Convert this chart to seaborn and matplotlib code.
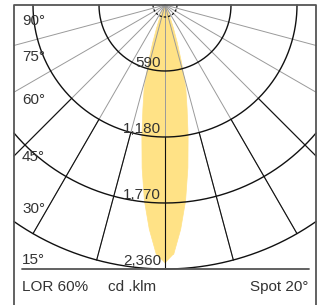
## Diagrama polar de distribuição luminosa (Spot 20°)
import numpy as np
import pandas as pd
import matplotlib
matplotlib.use('Agg')
import matplotlib.pyplot as plt
import seaborn as sns

## Dados
angulos = [0, 2, 4, 6, 8, 10, 12, 14, 16, 18, 20, 22, 24, 26, 28]
intensidade = [2310, 2230, 2010, 1760, 1470, 1190, 950, 770, 540, 360, 220, 130, 70, 30, 0]
aneis = [590, 1180, 1770, 2360]
rotulos_aneis = ['590', '1,180', '1,770', '2,360']
angulos_grade = [0, 15, 30, 45, 60, 75]
rotulos_angulo = ['90°', '75°', '60°', '45°', '30°', '15°']
texto_lor = 'LOR 60%'
texto_unid = 'cd .klm'
texto_feixe = 'Spot 20°'

## Escala: pixels -> cd/klm (centro do diagrama em x=165px, y=5px)
k = 2360 / 264.0
def px(x, y):
    return (x - 165) * k, -(y - 5) * k

sns.set_theme(style='white')
plt.rcParams['font.family'] = ['Liberation Sans', 'DejaVu Sans']

fig = plt.figure(figsize=(3.19, 3.05), dpi=100)
ax = fig.add_axes([0, 0, 1, 1])
x0, y0 = px(0, 0)
x1, y1 = px(319, 305)
ax.set_xlim(x0, x1)
ax.set_ylim(y1, y0)
ax.set_axis_off()

borda = 1350

## Curva de intensidade (espelhada)
df = pd.DataFrame({'ang': angulos, 'I': intensidade})
t = np.radians(df['ang'].values)
xs = np.concatenate([-(df['I'].values * np.sin(t))[::-1], df['I'].values * np.sin(t)])
ys = np.concatenate([-(df['I'].values * np.cos(t))[::-1], -df['I'].values * np.cos(t)])
ax.fill(xs, ys, color='#ffe286', lw=0, zorder=1)
sns.lineplot(x=xs, y=ys, sort=False, color='#ffe286', lw=0.5, ax=ax, zorder=1)

## Linhas radiais
for a in angulos_grade:
    for s in ([1] if a == 0 else [-1, 1]):
        th = np.radians(a)
        rmax = 2360 if np.sin(th) == 0 else min(2360, borda / np.sin(th))
        ax.plot([0, s * rmax * np.sin(th)], [0, -rmax * np.cos(th)], color='#9a9a9a', lw=0.7, zorder=2)
        if a <= 45 and rmax > 1180:
            ax.plot([s * 1180 * np.sin(th), s * rmax * np.sin(th)],
                    [-1180 * np.cos(th), -rmax * np.cos(th)], color='#111111', lw=0.8, zorder=3)

## Círculos
for r in aneis:
    tmax = np.pi / 2 if r <= borda else np.arcsin(borda / r)
    tt = np.linspace(-tmax, tmax, 300)
    ax.plot(r * np.sin(tt), -r * np.cos(tt), color='#111111', lw=1.0, zorder=3)
tt = np.linspace(-np.pi / 2, np.pi / 2, 100)
ax.plot(107 * np.sin(tt), -107 * np.cos(tt), color='#111111', lw=0.9, ls=(0, (2, 1.5)), zorder=3)

## Moldura
cor_moldura = '#555555'
ax.plot([-borda, -borda, borda, borda], [y1, 0, 0, y1], color=cor_moldura, lw=1.3, zorder=4, clip_on=False)
xa, _ = px(22, 0)
xb, _ = px(309, 0)
ax.plot([xa, xb], [-2360, -2360], color=cor_moldura, lw=1.3, zorder=4)

## Textos
fs = 11
cor_txt = '#333333'
ys_ang = [21, 57, 100, 157, 209, 260]
for lab, yy in zip(rotulos_angulo, ys_ang):
    tx, ty = px(22, yy)
    ax.text(tx, ty, lab, ha='left', va='center', fontsize=fs, color=cor_txt, zorder=5)

for r, lab in zip(aneis, rotulos_aneis):
    tx, _ = px(161, 0)
    ax.text(tx, -r + 8 * k, lab, ha='right', va='center', fontsize=fs, color=cor_txt, zorder=5)

tx, ty = px(22, 287)
ax.text(tx, ty, texto_lor, ha='left', va='center', fontsize=fs, color=cor_txt)
tx, ty = px(108, 287)
ax.text(tx, ty, texto_unid, ha='left', va='center', fontsize=fs, color=cor_txt)
tx, ty = px(308, 287)
ax.text(tx, ty, texto_feixe, ha='right', va='center', fontsize=fs, color=cor_txt)

fig.savefig('out.png', dpi=100)
